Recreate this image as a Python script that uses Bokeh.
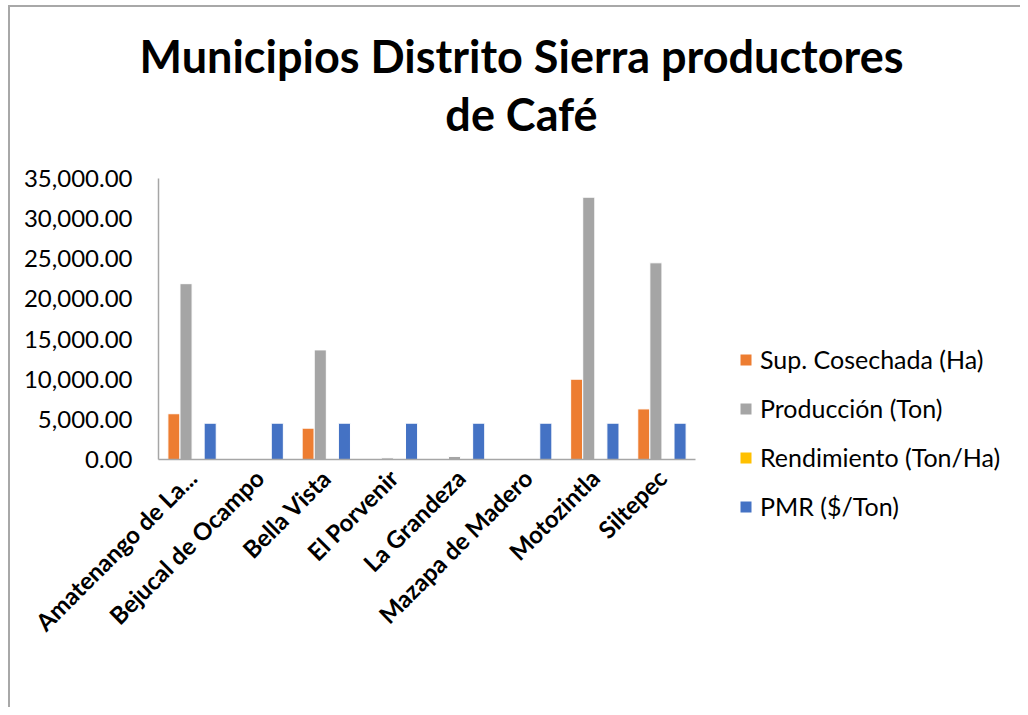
from bokeh.plotting import figure
from bokeh.models import Range1d, Legend, LegendItem, Label, NumeralTickFormatter, ColumnDataSource, FixedTicker
from bokeh.transform import dodge
from bokeh.embed import file_html
from bokeh.resources import INLINE

municipios = ["Amatenango de La...", "Bejucal de Ocampo", "Bella Vista", "El Porvenir",
              "La Grandeza", "Mazapa de Madero", "Motozintla", "Siltepec"]
sup_cosechada = [5700, 0, 3900, 0, 0, 0, 10000, 6300]
produccion = [21900, 0, 13650, 200, 380, 0, 32670, 24500]
rendimiento = [3.84, 0, 3.5, 0, 0, 0, 3.27, 3.89]
pmr = [4520, 4520, 4520, 4520, 4520, 4520, 4520, 4520]
series_names = ["Sup. Cosechada (Ha)", "Producción (Ton)", "Rendimiento (Ton/Ha)", "PMR ($/Ton)"]
colors = ["#ED7D31", "#A5A5A5", "#FFC000", "#4472C4"]
y_ticks = [0, 5000, 10000, 15000, 20000, 25000, 30000, 35000]
title_lines = ["Municipios Distrito Sierra productores", "de Café"]

FONT = "Lato"

# ---- layout geometry (pixels) ----
FIG_W, FIG_H = 1010, 700           # whole drawing area (frame covers all of it)
ORIGIN_X, ORIGIN_Y = 148, 452      # pixel position of the axes' origin inside the figure
AXIS_LEN_X, AXIS_LEN_Y = 537, 281  # visible lengths of the category and value axes
YMAX = 35000
ncat = len(municipios)
cat_px = AXIS_LEN_X / ncat
val_px = AXIS_LEN_Y / YMAX

x_range = Range1d(-ORIGIN_X / cat_px, (FIG_W - ORIGIN_X) / cat_px)
y_range = Range1d(-(FIG_H - ORIGIN_Y) / val_px, ORIGIN_Y / val_px)

idx = list(range(ncat))
src = ColumnDataSource(dict(i=[k + 0.5 for k in idx], s0=sup_cosechada, s1=produccion,
                            s2=rendimiento, s3=pmr))

p = figure(frame_width=FIG_W, frame_height=FIG_H, x_range=x_range, y_range=y_range,
           output_backend="svg", toolbar_location=None, min_border=0)
p.margin = (5, 0, 0, 8)
p.styles = {"border-left": "2px solid #a8a8a8", "border-top": "2px solid #a8a8a8"}
p.outline_line_color = None
p.background_fill_color = "white"
p.border_fill_color = "white"
p.xgrid.grid_line_color = None
p.ygrid.grid_line_color = None

bw = 0.18
offsets = [-0.27, -0.09, 0.09, 0.27]
items = []
for k, (name, col, off) in enumerate(zip(series_names, colors, offsets)):
    r = p.vbar(x=dodge("i", off), top="s%d" % k, width=bw, source=src,
               fill_color=col, line_color="white", line_width=1)
    items.append(LegendItem(label=name, renderers=[r]))

# value axis
p.yaxis.fixed_location = 0
p.yaxis.ticker = FixedTicker(ticks=y_ticks)
p.yaxis.bounds = (0, YMAX)
p.yaxis.formatter = NumeralTickFormatter(format="0,0.00")
p.yaxis.major_label_text_font = FONT
p.yaxis.major_label_text_font_size = "24px"
p.yaxis.major_label_text_color = "#000000"
p.yaxis.major_label_standoff = 20
p.yaxis.axis_line_color = "#a6a6a6"
p.yaxis.axis_line_width = 1.5
p.yaxis.major_tick_line_color = None
p.yaxis.minor_tick_line_color = None

# category axis
p.xaxis.fixed_location = 0
p.xaxis.bounds = (0, ncat)
p.xaxis.ticker = FixedTicker(ticks=[k + 0.5 for k in idx])
p.xaxis.major_label_overrides = {k + 0.5: m for k, m in zip(idx, municipios)}
p.xaxis.major_label_orientation = 0.785398
p.xaxis.major_label_text_font = FONT
p.xaxis.major_label_text_font_style = "bold"
p.xaxis.major_label_text_font_size = "24px"
p.xaxis.major_label_text_color = "#000000"
p.xaxis.major_label_standoff = 8
p.xaxis.axis_line_color = "#a6a6a6"
p.xaxis.axis_line_width = 1.5
p.xaxis.major_tick_line_color = None
p.xaxis.minor_tick_line_color = None

legend = Legend(items=items, location=(728, 186), orientation="vertical",
                label_text_font=FONT, label_text_font_size="25px", label_text_color="#000000",
                glyph_width=15, glyph_height=15, label_standoff=7, label_height=24,
                spacing=19, padding=0, margin=0, border_line_color=None,
                background_fill_alpha=0)
p.add_layout(legend)

# title (two centred lines above the chart)
title_cx = 363 / cat_px
for txt, dy in zip(title_lines, [404, 346]):
    p.add_layout(Label(x=title_cx, y=dy / val_px, text=txt, text_align="center",
                       text_baseline="middle", text_font=FONT, text_font_style="bold",
                       text_font_size="45px", text_color="#000000"))

open("out.html", "w").write(file_html(p, INLINE))
